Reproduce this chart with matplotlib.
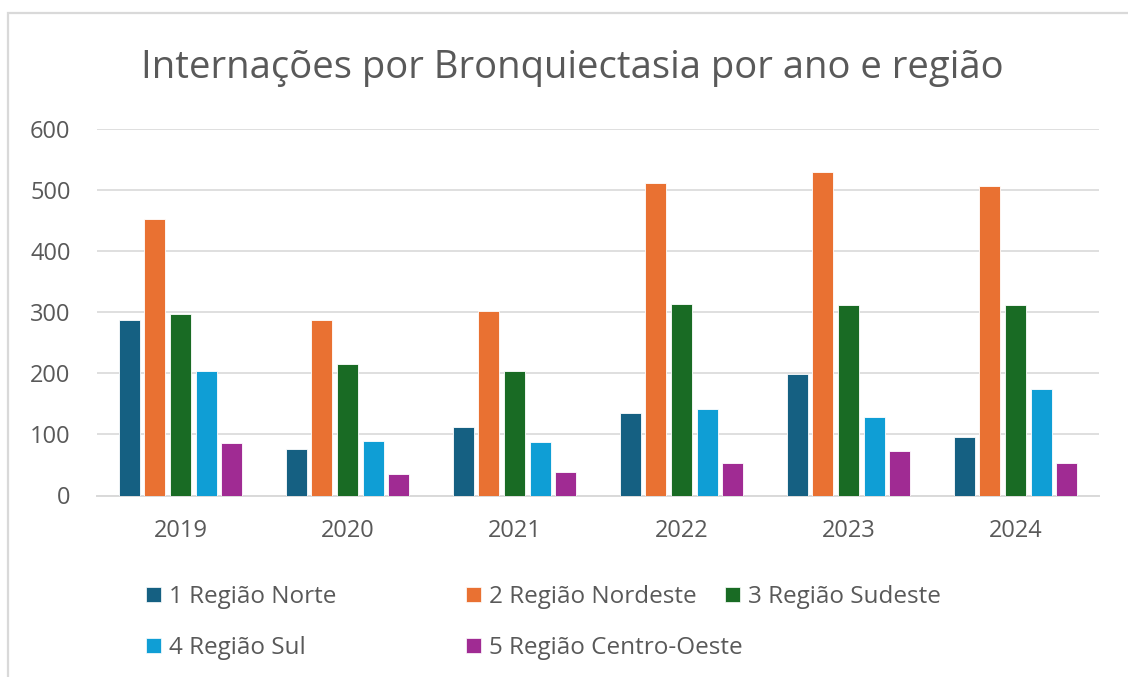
import matplotlib
matplotlib.use("Agg")
import matplotlib.pyplot as plt
from matplotlib.patches import Rectangle, Patch
import numpy as np

plt.rcParams['font.family'] = ['Open Sans', 'DejaVu Sans']

years = ["2019", "2020", "2021", "2022", "2023", "2024"]
regions = ["1 Região Norte", "2 Região Nordeste", "3 Região Sudeste",
           "4 Região Sul", "5 Região Centro-Oeste"]
norte = [287, 76, 112, 135, 199, 95]
nordeste = [452, 287, 302, 511, 530, 506]
sudeste = [297, 216, 204, 314, 312, 312]
sul = [204, 90, 88, 142, 128, 175]
centro_oeste = [86, 36, 38, 53, 73, 53]
series = [norte, nordeste, sudeste, sul, centro_oeste]
colors = ["#156082", "#E97132", "#196B24", "#0F9ED5", "#A02B93"]
yticks = [0, 100, 200, 300, 400, 500, 600]

TXT = "#595959"
GRID = "#D9D9D9"
W, H = 1128, 677
fig = plt.figure(figsize=(W / 100, H / 100), dpi=100)
fig.patch.set_facecolor("white")

ax = fig.add_axes([97 / W, (H - 495.5) / H, (1099 - 97) / W, (495.5 - 129) / H])
x = np.arange(len(years))
slot = 0.153
bw = 0.126
for j, (vals, c) in enumerate(zip(series, colors)):
    ax.bar(x + (j - 2) * slot, vals, width=bw, color=c, edgecolor="white",
           linewidth=0.6, zorder=3, label=regions[j])

ax.set_xlim(-0.5, len(years) - 0.5)
ax.set_ylim(0, 600)
ax.set_yticks(yticks)
ax.set_yticklabels([str(v) for v in yticks])
ax.set_xticks(x)
ax.set_xticklabels(years)
ax.grid(axis="y", color=GRID, linewidth=1.2, zorder=0)
ax.set_axisbelow(True)
for s in ["top", "right", "left"]:
    ax.spines[s].set_visible(False)
ax.spines["bottom"].set_color(GRID)
ax.spines["bottom"].set_linewidth(1.4)
ax.tick_params(axis="both", length=0, colors=TXT, labelsize=17)
ax.tick_params(axis="y", pad=19)
ax.tick_params(axis="x", pad=17)

fig.text(572 / W, 1 - 68 / H, "Internações por Bronquiectasia por ano e região",
         ha="center", va="center", fontsize=27.5, color=TXT)

# legend entries
pos = [(146, 597), (466, 597), (725, 597), (146, 648), (466, 648)]
for (px, py), lab, c in zip(pos, regions, colors):
    leg = fig.legend(handles=[Patch(facecolor=c, edgecolor="white", linewidth=0.5)],
                     labels=[lab], loc="center left",
                     bbox_to_anchor=(px / W, 1 - py / H), frameon=False,
                     fontsize=17.5, handlelength=0.6, handleheight=0.6,
                     handletextpad=0.35, borderpad=0, borderaxespad=0)
    for t in leg.get_texts():
        t.set_color(TXT)

# chart border
fig.add_artist(Rectangle((8 / W, -0.1), 1.2, 0.1 + (H - 12.5) / H,
                         transform=fig.transFigure, fill=False,
                         edgecolor=GRID, linewidth=1.6, clip_on=False))

fig.savefig("out.png", dpi=100)
